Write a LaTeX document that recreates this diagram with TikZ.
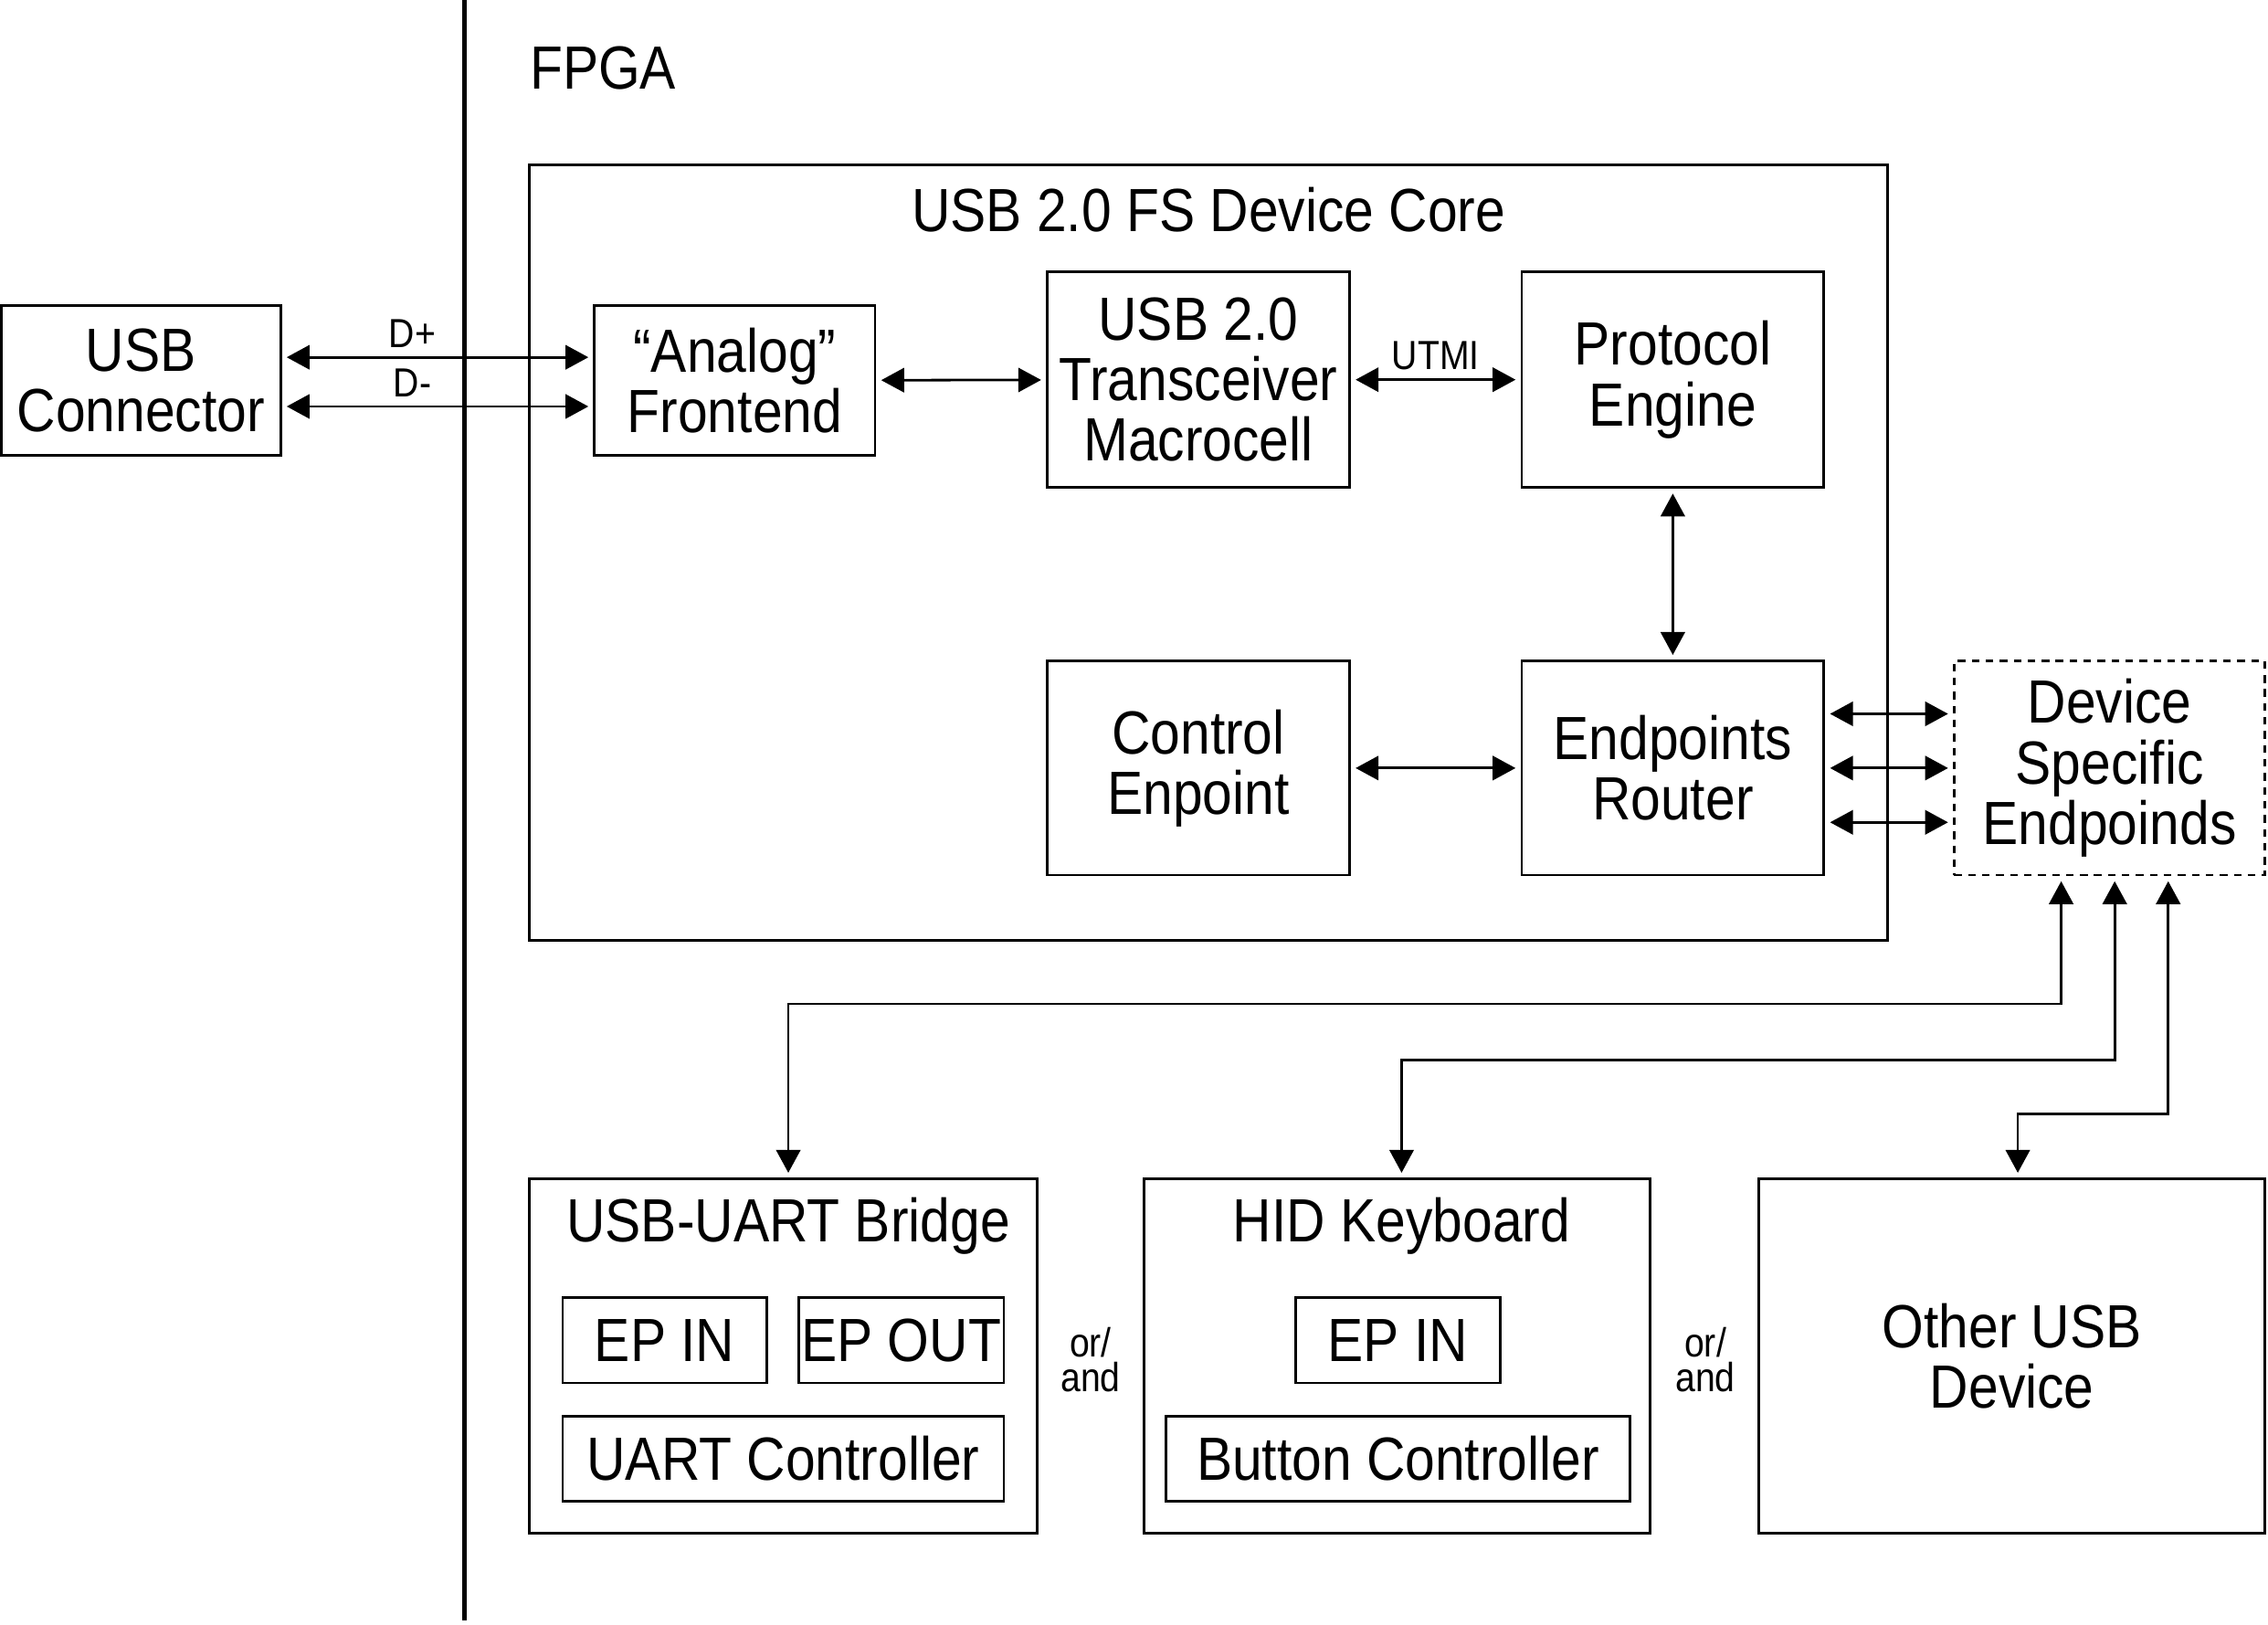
\documentclass[tikz,border=0pt]{standalone}
\usepackage{fontspec}
\setmainfont{Liberation Sans}[FakeStretch=0.88]
\usetikzlibrary{arrows.meta}
\begin{document}
\begin{tikzpicture}
		% block diagram of the USB device core inside the FPGA
		[block/.style={draw,line width=1pt,inner sep=0pt,outer sep=0pt,align=center,font=\fontsize{24}{23.8}\selectfont},
		 dblock/.style={block,dash pattern=on 3pt off 2.5pt},
		 title/.style={font=\fontsize{24}{23.8}\selectfont},
		 small/.style={font=\fontsize{16}{13.5}\selectfont,align=center},
		 biarrow/.style={{Triangle[length=9pt,width=9.5pt]}-{Triangle[length=9pt,width=9.5pt]},line width=1pt,shorten >=2.4pt,shorten <=2.4pt}]
		\useasboundingbox (0,0) rectangle (31.36,-22.46);

		\draw[line width=2pt] (6.42,0) -- (6.42,-22.4);
		\node[title,anchor=west,inner sep=0pt] (fpga) at (7.32,-0.94) {FPGA};

		\node[block,minimum width=18.78cm,minimum height=10.72cm] (core) at (16.71,-7.64) {};
		\node[title] (coretitle) at (16.71,-2.9) {USB 2.0 FS Device Core};

		\node[block,minimum width=3.86cm,minimum height=2.08cm] (conn) at (1.95,-5.26) {USB\\Connector};
		\node[block,minimum width=3.88cm,minimum height=2.08cm] (afe) at (10.16,-5.26) {“Analog”\\Frontend};
		\node[block,minimum width=4.18cm,minimum height=2.98cm] (xcvr) at (16.57,-5.25) {USB 2.0\\Transceiver\\Macrocell};
		\node[block,minimum width=4.18cm,minimum height=2.98cm] (proto) at (23.13,-5.25) {Protocol\\Engine};
		\node[block,minimum width=4.18cm,minimum height=2.96cm] (ctrl) at (16.57,-10.62) {Control\\Enpoint};
		\node[block,minimum width=4.18cm,minimum height=2.96cm] (router) at (23.13,-10.62) {Endpoints\\Router};
		\node[dblock,minimum width=4.30cm,minimum height=2.96cm] (dse) at (29.17,-10.62) {Device\\Specific\\Endpoinds};

		\draw[biarrow] ([yshift=0.32cm]conn.east) -- node[small,above,pos=0.42] {D+} ([yshift=0.32cm]afe.west);
		\draw[biarrow] ([yshift=-0.36cm]conn.east) -- node[small,above,pos=0.42] {D-} ([yshift=-0.36cm]afe.west);
		\draw[biarrow] (afe) -- (xcvr);
		\draw[biarrow] (xcvr) -- node[small,above] {UTMI} (proto);
		\draw[biarrow] (proto) -- (router);
		\draw[biarrow] (ctrl) -- (router);
		\draw[biarrow] ([yshift=0.75cm]router.east) -- ([yshift=0.75cm]dse.west);
		\draw[biarrow] (router.east) -- (dse.west);
		\draw[biarrow] ([yshift=-0.75cm]router.east) -- ([yshift=-0.75cm]dse.west);

		\node[block,minimum width=7.02cm,minimum height=4.9cm] (bridge) at (10.83,-18.75) {};
		\node[title] (bridgetitle) at (10.9,-16.95) {USB-UART Bridge};
		\node[block,minimum width=2.82cm,minimum height=1.18cm] (epin) at (9.19,-18.53) {EP IN};
		\node[block,minimum width=2.84cm,minimum height=1.18cm] (epout) at (12.46,-18.53) {EP OUT};
		\node[block,minimum width=6.10cm,minimum height=1.18cm] (uart) at (10.83,-20.17) {UART Controller};

		\node[block,minimum width=7.0cm,minimum height=4.9cm] (hid) at (19.32,-18.75) {};
		\node[title] (hidtitle) at (19.38,-16.95) {HID Keyboard};
		\node[block,minimum width=2.82cm,minimum height=1.18cm] (hidin) at (19.33,-18.53) {EP IN};
		\node[block,minimum width=6.42cm,minimum height=1.18cm] (button) at (19.33,-20.17) {Button Controller};

		\node[block,minimum width=7.0cm,minimum height=4.9cm] (other) at (27.82,-18.75) {Other USB\\Device};

		\node[small] (or1) at (15.08,-18.8) {or/\\and};
		\node[small] (or2) at (23.58,-18.8) {or/\\and};

		\draw[biarrow] ([xshift=-0.67cm]dse.south) -- ++(0,-1.78) -| ([xshift=0.07cm]bridge.north);
		\draw[biarrow] ([xshift=0.07cm]dse.south) -- ++(0,-2.56) -| ([xshift=0.06cm]hid.north);
		\draw[biarrow] ([xshift=0.81cm]dse.south) -- ++(0,-3.3) -| ([xshift=0.08cm]other.north);
	\end{tikzpicture}
\end{document}
